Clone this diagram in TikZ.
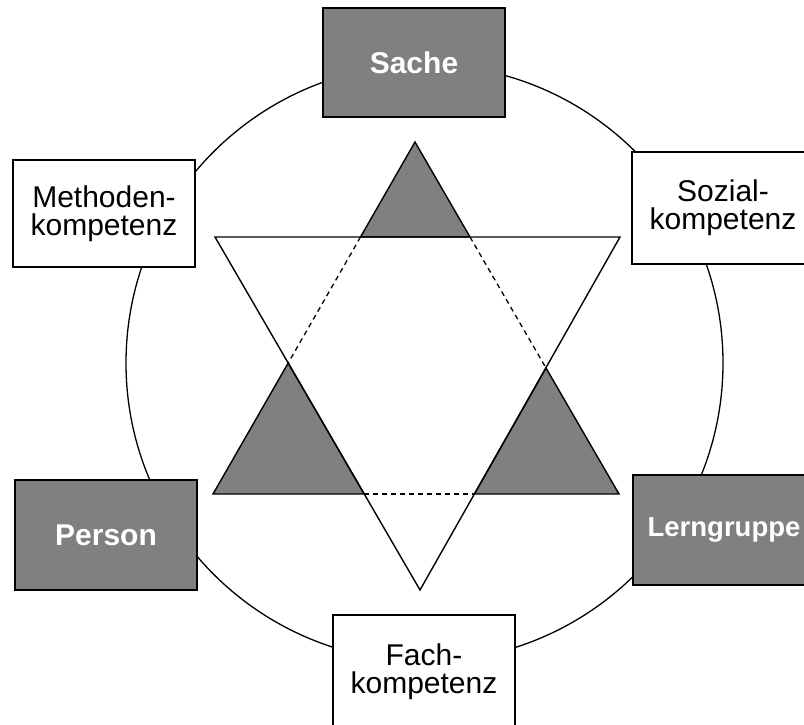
\documentclass[tikz,border=0pt]{standalone}
\usepackage{fontspec}
\setmainfont{Liberation Sans}
\definecolor{shade}{gray}{0.5}
\begin{document}
\begin{tikzpicture}[x=1pt,y=-1pt,
  box/.style={draw=black, line width=1.5pt, fill=white, minimum width=182pt,
    inner sep=0pt, align=center, font=\fontsize{30}{28}\selectfont},
  graybox/.style={box, fill=shade, text=white, font=\fontsize{30}{28}\selectfont\bfseries},
  ring/.style={draw=black, line width=1.3pt},
  starline/.style={draw=black, line width=1.4pt, line join=miter},
  hidden/.style={draw=black, line width=1.3pt, dash pattern=on 5pt off 4pt},
  corner/.style={starline, fill=shade}]
\useasboundingbox (0,0) rectangle (804,724);
\clip (0,0) rectangle (804,724);
\fill[white] (0,0) rectangle (804,724);

% ring
\draw[ring] (424.5,363) circle[radius=298.5pt];

% star coordinates
\coordinate (T) at (415,142);
\coordinate (BL) at (213,494);
\coordinate (BR) at (619,494);
\coordinate (DL) at (215,237);
\coordinate (DR) at (620,237);
\coordinate (D) at (420,590);
\coordinate (P1) at (360.5,237);
\coordinate (P2) at (470,237);
\coordinate (P3) at (288.2,363);
\coordinate (P4) at (546,368);
\coordinate (P5) at (364.2,494);
\coordinate (P6) at (474.4,494);

% shaded corners of the upward triangle
\filldraw[corner] (T) -- (P1) -- (P2) -- cycle;
\filldraw[corner] (BL) -- (P3) -- (P5) -- cycle;
\filldraw[corner] (BR) -- (P4) -- (P6) -- cycle;

% hidden parts of the upward triangle
\draw[hidden] (P1) -- (P3);
\draw[hidden] (P5) -- (P6);
\draw[hidden] (P2) -- (P4);

% downward triangle
\draw[starline] (DL) -- (DR) -- (D) -- cycle;

% boxes
\node[graybox, minimum height=109pt] (sache) at (414,62.5) {Sache};
\node[box, minimum height=107pt] (meth) at (104,213.5) {Methoden-\\kompetenz};
\node[box, minimum height=112pt] (sozial) at (723,208) {Sozial-\\kompetenz};
\node[graybox, minimum height=110pt] (person) at (106,535) {Person};
\node[graybox, minimum height=110pt, font=\fontsize{27.5}{28}\selectfont\bfseries] (lern) at (724,530) {Lerngruppe};
\node[box, minimum height=114pt] (fach) at (424,672) {Fach-\\kompetenz};
\end{tikzpicture}
\end{document}
